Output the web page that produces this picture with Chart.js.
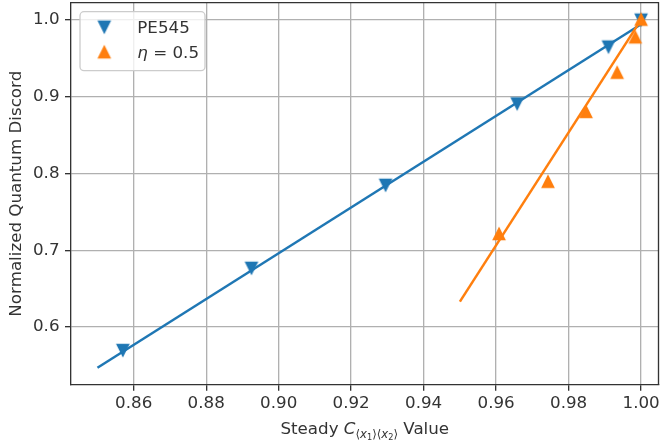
<!DOCTYPE html>
<html>
<head>
<meta charset="utf-8">
<script src="https://cdn.jsdelivr.net/npm/chart.js@4.4.0/dist/chart.umd.min.js"></script>
<style>
  html, body { margin: 0; padding: 0; background: #fff; }
</style>
</head>
<body>
<canvas id="chart" width="661" height="446"></canvas>
<script>
// values
const pe545X = [0.857, 0.8925, 0.9295, 0.9658, 0.991, 1.0];
const pe545Y = [0.570, 0.677, 0.785, 0.891, 0.965, 1.0];
const etaX = [0.9608, 0.9743, 0.9848, 0.9934, 0.9984, 1.0];
const etaY = [0.721, 0.789, 0.880, 0.931, 0.977, 1.0];
const pe545FitX = [0.85, 1.0];
const pe545FitY = [0.547, 0.994];
const etaFitX = [0.95, 1.0];
const etaFitY = [0.633, 1.0];
const xTicks = [0.86, 0.88, 0.90, 0.92, 0.94, 0.96, 0.98, 1.00];
const yTicks = [0.6, 0.7, 0.8, 0.9, 1.0];

const blue = "#1f77b4";
const orange = "#ff7f0e";
const dark = "#333333";
const FONT = "DejaVu Sans";

function toPoints(xs, ys) {
  return xs.map((x, i) => ({ x, y: ys[i] }));
}

// matplotlib-like triangle markers (width = height)
function triangle(color, down) {
  const c = document.createElement("canvas");
  c.width = c.height = 18;
  const g = c.getContext("2d");
  const h = 5.5, m = 9;
  g.fillStyle = color;
  g.strokeStyle = color;
  g.lineWidth = 1.7;
  g.beginPath();
  if (down) {
    g.moveTo(m - h, m - h); g.lineTo(m + h, m - h); g.lineTo(m, m + h);
  } else {
    g.moveTo(m, m - h); g.lineTo(m + h, m + h); g.lineTo(m - h, m + h);
  }
  g.closePath();
  g.fill();
  g.stroke();
  return c;
}

const triDown = triangle(blue, true);
const triUp = triangle(orange, false);

const extras = {
  id: "extras",
  afterDraw(chart) {
    const g = chart.ctx;
    const a = chart.chartArea;
    g.save();
    // top and right spines
    g.strokeStyle = dark;
    g.lineWidth = 1.33;
    g.beginPath();
    g.moveTo(a.left, a.top); g.lineTo(a.right, a.top); g.lineTo(a.right, a.bottom);
    g.stroke();

    // legend
    const lx = 80, ly = 11.7, lw = 125, lh = 59, r = 4;
    g.beginPath();
    g.roundRect(lx, ly, lw, lh, r);
    g.fillStyle = "rgba(255,255,255,0.8)";
    g.fill();
    g.strokeStyle = "#cccccc";
    g.lineWidth = 1.33;
    g.stroke();
    g.drawImage(triDown, 104.3 - 9, 26.7 - 9);
    g.drawImage(triUp, 104.3 - 9, 52.3 - 9);
    g.fillStyle = dark;
    g.textBaseline = "alphabetic";
    g.textAlign = "left";
    g.font = `16.7px "${FONT}"`;
    g.fillText("PE545", 137.3, 32.8);
    g.font = `oblique 16.7px "${FONT}"`;
    g.fillText("η", 137.3, 58.4);
    const ew = g.measureText("η").width;
    g.font = `16.7px "${FONT}"`;
    g.fillText(" = 0.5", 137.3 + ew, 58.4);

    // y axis title
    g.save();
    g.translate(21, (a.top + a.bottom) / 2);
    g.rotate(-Math.PI / 2);
    g.textAlign = "center";
    g.font = `16.7px "${FONT}"`;
    g.fillText("Normalized Quantum Discord", 0, 0);
    g.restore();

    // x axis title: Steady C_{<x1><x2>} Value
    const parts = [
      { t: "Steady ", f: `16.7px "${FONT}"`, dy: 0 },
      { t: "C", f: `oblique 16.7px "${FONT}"`, dy: 0 },
      { t: "⟨", f: `11.7px "${FONT}"`, dy: 3.5 },
      { t: "x", f: `oblique 11.7px "${FONT}"`, dy: 3.5 },
      { t: "1", f: `8.2px "${FONT}"`, dy: 5.5 },
      { t: "⟩⟨", f: `11.7px "${FONT}"`, dy: 3.5 },
      { t: "x", f: `oblique 11.7px "${FONT}"`, dy: 3.5 },
      { t: "2", f: `8.2px "${FONT}"`, dy: 5.5 },
      { t: "⟩", f: `11.7px "${FONT}"`, dy: 3.5 },
      { t: " Value", f: `16.7px "${FONT}"`, dy: 0 }
    ];
    let total = 0;
    parts.forEach(p => { g.font = p.f; p.w = g.measureText(p.t).width; total += p.w; });
    let x = (a.left + a.right) / 2 - total / 2;
    const base = 434.3;
    parts.forEach(p => {
      g.font = p.f;
      g.fillText(p.t, x, base + p.dy);
      x += p.w;
    });
    g.restore();
  }
};

new Chart(document.getElementById("chart"), {
  type: "scatter",
  data: {
    datasets: [
      {
        label: "η = 0.5",
        data: toPoints(etaX, etaY),
        pointStyle: triUp,
        pointRadius: 6,
        showLine: false
      },
      {
        label: "PE545",
        data: toPoints(pe545X, pe545Y),
        pointStyle: triDown,
        pointRadius: 6,
        showLine: false
      },
      {
        label: "eta fit",
        data: toPoints(etaFitX, etaFitY),
        showLine: true,
        borderColor: orange,
        borderWidth: 2.5,
        pointRadius: 0
      },
      {
        label: "PE545 fit",
        data: toPoints(pe545FitX, pe545FitY),
        showLine: true,
        borderColor: blue,
        borderWidth: 2.5,
        pointRadius: 0
      }
    ]
  },
  options: {
    responsive: false,
    animation: false,
    devicePixelRatio: 1,
    layout: { autoPadding: false, padding: { top: 2.7, right: 2.5, left: 0, bottom: 0 } },
    plugins: { legend: { display: false }, tooltip: { enabled: false } },
    scales: {
      x: {
        type: "linear",
        min: 0.8427,
        max: 1.0048,
        afterBuildTicks: scale => { scale.ticks = xTicks.map(v => ({ value: v })); },
        afterFit: scale => {
          scale.height = 446 - 384.7;
          scale.paddingLeft = 0;
          scale.paddingRight = 0;
        },
        ticks: {
          callback: v => v.toFixed(2),
          font: { family: FONT, size: 16.7 },
          color: dark,
          padding: 3,
          maxRotation: 0
        },
        grid: { color: "#b0b0b0", lineWidth: 1.33, tickLength: 6, tickColor: dark, tickWidth: 1.33 },
        border: { display: true, color: dark, width: 1.33 }
      },
      y: {
        type: "linear",
        min: 0.5249,
        max: 1.0221,
        afterBuildTicks: scale => { scale.ticks = yTicks.map(v => ({ value: v })); },
        afterFit: scale => {
          scale.width = 71;
          scale.paddingTop = 0;
          scale.paddingBottom = 0;
        },
        ticks: {
          callback: v => v.toFixed(1),
          font: { family: FONT, size: 16.7 },
          color: dark,
          padding: 5.5
        },
        grid: { color: "#b0b0b0", lineWidth: 1.33, tickLength: 6, tickColor: dark, tickWidth: 1.33 },
        border: { display: true, color: dark, width: 1.33 }
      }
    }
  },
  plugins: [extras]
});
</script>
</body>
</html>
